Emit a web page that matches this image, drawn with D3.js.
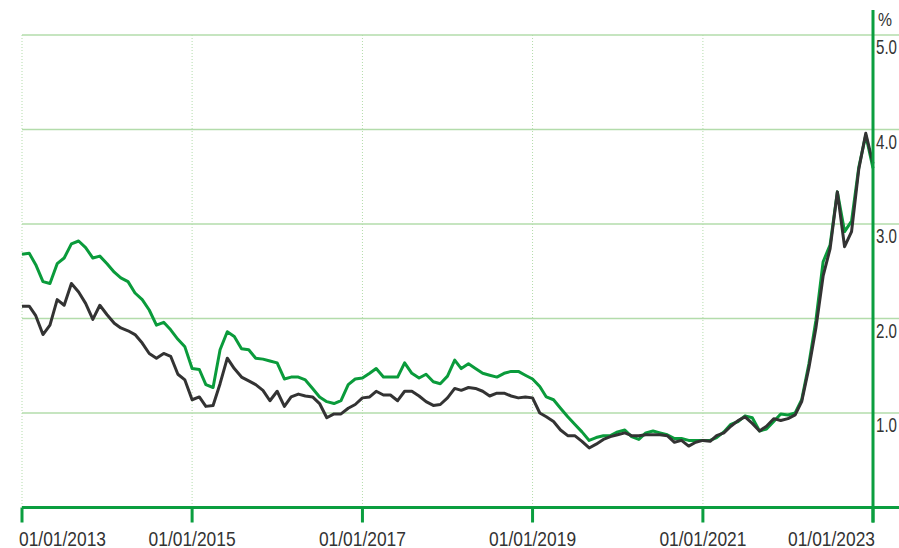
<!DOCTYPE html>
<html>
<head>
<meta charset="utf-8">
<script src="https://cdn.jsdelivr.net/npm/d3@7"></script>
<style>
  body { margin: 0; background: #fff; }
  .canvas text { font-family: "Liberation Sans Narrow", "Arial Narrow", "Liberation Sans", sans-serif; fill: #333; }
</style>
</head>
<body>
<div class="canvas"></div>
<script>
// monthly values, Jan 2013 .. Jan 2023
const firstMonth = "2013-01-01"
const lastMonth = "2023-01-01"

const greenValues = [
  2.68, 2.69, 2.57, 2.39, 2.37, 2.58, 2.64, 2.79, 2.82, 2.75, 2.64, 2.66,
  2.58, 2.49, 2.43, 2.39, 2.27, 2.20, 2.09, 1.93, 1.96, 1.88, 1.78, 1.70,
  1.47, 1.46, 1.30, 1.27, 1.67, 1.86, 1.81, 1.68, 1.67, 1.58, 1.57, 1.55,
  1.53, 1.36, 1.38, 1.38, 1.35, 1.26, 1.17, 1.12, 1.10, 1.13, 1.30, 1.36,
  1.37, 1.42, 1.47, 1.38, 1.38, 1.38, 1.53, 1.42, 1.37, 1.41, 1.33, 1.31,
  1.39, 1.56, 1.47, 1.52, 1.47, 1.42, 1.40, 1.38, 1.42, 1.44, 1.44, 1.40,
  1.36, 1.28, 1.17, 1.14, 1.05, 0.96, 0.88, 0.80, 0.71, 0.74, 0.76, 0.76,
  0.80, 0.82, 0.75, 0.72, 0.79, 0.81, 0.79, 0.77, 0.73, 0.73, 0.71, 0.71,
  0.71, 0.71, 0.74, 0.80, 0.88, 0.91, 0.97, 0.95, 0.81, 0.83, 0.91, 0.99,
  0.98, 1.00, 1.14, 1.52, 1.98, 2.60, 2.78, 3.34, 2.92, 3.03, 3.60, 3.94,
  3.59
]

const darkValues = [
  2.13, 2.13, 2.03, 1.83, 1.93, 2.20, 2.14, 2.37, 2.28, 2.16, 1.99, 2.14,
  2.04, 1.95, 1.90, 1.87, 1.83, 1.74, 1.63, 1.58, 1.63, 1.60, 1.41, 1.35,
  1.14, 1.17, 1.07, 1.08, 1.31, 1.58, 1.47, 1.38, 1.34, 1.30, 1.24, 1.13,
  1.23, 1.07, 1.17, 1.20, 1.18, 1.17, 1.10, 0.95, 0.99, 0.99, 1.05, 1.09,
  1.16, 1.17, 1.23, 1.19, 1.19, 1.13, 1.23, 1.23, 1.18, 1.12, 1.08, 1.09,
  1.16, 1.26, 1.24, 1.27, 1.26, 1.23, 1.18, 1.21, 1.21, 1.18, 1.16, 1.17,
  1.16, 1.00, 0.96, 0.91, 0.82, 0.76, 0.76, 0.70, 0.63, 0.67, 0.72, 0.75,
  0.77, 0.79, 0.76, 0.76, 0.77, 0.77, 0.77, 0.76, 0.69, 0.71, 0.65, 0.69,
  0.71, 0.70, 0.76, 0.79, 0.86, 0.92, 0.96, 0.89, 0.81, 0.86, 0.94, 0.92,
  0.94, 0.98, 1.12, 1.48, 1.90, 2.45, 2.74, 3.34, 2.76, 2.92, 3.58, 3.96,
  3.64
]

const xTickDates = ["2013-01-01", "2015-01-01", "2017-01-01", "2019-01-01", "2021-01-01", "2023-01-01"]
const xTickLabels = ["01/01/2013", "01/01/2015", "01/01/2017", "01/01/2019", "01/01/2021", "01/01/2023"]
const yTicks = [1, 2, 3, 4, 5]
const yTickLabels = ["1.0", "2.0", "3.0", "4.0", "5.0"]
const unitLabel = "%"

const width = 899;
const height = 548;
let [mt, mr, mb, ml] = [35, 26, 40.5, 22]

const axisGreen = "#0b9e3f"
const gridGreen = "#b3dcab"

const parse = d3.timeParse("%Y-%m-%d")
const months = d3.timeMonth.range(parse(firstMonth), d3.timeMonth.offset(parse(lastMonth), 1))

const svg = d3.select(".canvas")
                .append("svg")
                .attr("width", width)
                .attr("height", height)

const x = d3.scaleTime()
            .domain([parse(firstMonth), parse(lastMonth)])
            .range([ml, width - mr])

const y = d3.scaleLinear()
            .domain([0, 5])
            .range([height - mb, mt])

// horizontal grid
svg.append("g")
    .selectAll("line")
    .data(yTicks)
    .enter()
    .append("line")
    .attr("x1", ml)
    .attr("x2", width)
    .attr("y1", d => y(d))
    .attr("y2", d => y(d))
    .attr("stroke", gridGreen)
    .attr("stroke-width", 1.5)

// vertical dotted grid
svg.append("g")
    .selectAll("line")
    .data(xTickDates.slice(0, -1))
    .enter()
    .append("line")
    .attr("x1", d => x(parse(d)))
    .attr("x2", d => x(parse(d)))
    .attr("y1", y(5))
    .attr("y2", y(0))
    .attr("stroke", gridGreen)
    .attr("stroke-width", 1)
    .attr("stroke-dasharray", "1,2")

// series
const line = d3.line()
                .x((d, i) => x(months[i]))
                .y(d => y(d))

svg.append("path")
    .datum(greenValues)
    .attr("d", line)
    .attr("fill", "none")
    .attr("stroke", "#0a9b3b")
    .attr("stroke-width", 3)
    .attr("stroke-linejoin", "round")

svg.append("path")
    .datum(darkValues)
    .attr("d", line)
    .attr("fill", "none")
    .attr("stroke", "#333333")
    .attr("stroke-width", 3)
    .attr("stroke-linejoin", "round")

// bottom axis
const xAxis = svg.append("g")
xAxis.append("line")
    .attr("x1", ml)
    .attr("x2", width)
    .attr("y1", y(0))
    .attr("y2", y(0))
    .attr("stroke", axisGreen)
    .attr("stroke-width", 3)

xAxis.selectAll(".tick")
    .data(xTickDates)
    .enter()
    .append("line")
    .attr("x1", d => x(parse(d)))
    .attr("x2", d => x(parse(d)))
    .attr("y1", y(0))
    .attr("y2", y(0) + 15)
    .attr("stroke", axisGreen)
    .attr("stroke-width", 3)

// labels are condensed to the narrow face of the original;
// first one starts at its tick, last one ends at its tick
const labelW = 87
const last = xTickDates.length - 1
xAxis.selectAll("text")
    .data(xTickDates)
    .enter()
    .append("text")
    .attr("x", (d, i) => {
        const tx = x(parse(d))
        if (i === 0) return tx - 3
        if (i === last) return tx + 2 - labelW
        return tx - labelW / 2
    })
    .attr("y", y(0) + 38)
    .attr("textLength", labelW)
    .attr("lengthAdjust", "spacingAndGlyphs")
    .style("font-size", "21px")
    .text((d, i) => xTickLabels[i])

// right axis
const xr = x(parse(lastMonth))
svg.append("line")
    .attr("x1", xr)
    .attr("x2", xr)
    .attr("y1", 10)
    .attr("y2", y(0) + 15)
    .attr("stroke", axisGreen)
    .attr("stroke-width", 3)

svg.append("g")
    .selectAll("text")
    .data(yTicks)
    .enter()
    .append("text")
    .attr("x", xr + 3)
    .attr("y", d => y(d) + 19)
    .attr("textLength", 21)
    .attr("lengthAdjust", "spacingAndGlyphs")
    .style("font-size", "21px")
    .text((d, i) => yTickLabels[i])

svg.append("text")
    .attr("x", xr + 5)
    .attr("y", 26)
    .attr("textLength", 14)
    .attr("lengthAdjust", "spacingAndGlyphs")
    .style("font-size", "19px")
    .text(unitLabel)
</script>
</body>
</html>
